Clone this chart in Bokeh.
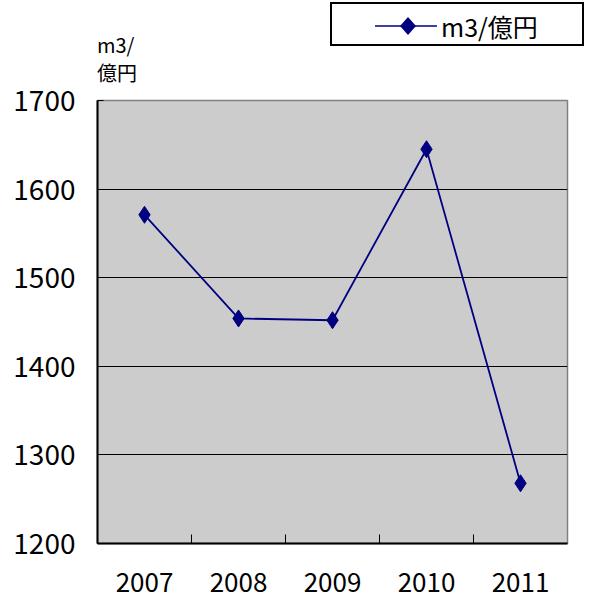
from bokeh.plotting import figure
from bokeh.layouts import column
from bokeh.models import (Range1d, LinearAxis, FixedTicker, Grid, Div)
from bokeh.embed import file_html
from bokeh.resources import INLINE

years = ["2007", "2008", "2009", "2010", "2011"]
values = [1571, 1454, 1452, 1645, 1268]
y_ticks = [1200, 1300, 1400, 1500, 1600, 1700]
series_name = "m3/億円"
y_title_lines = ["m3/", "億円"]

FONT = "Noto Sans CJK JP"
NAVY = "#000080"
xs = [i + 0.5 for i in range(len(years))]

# ---- main chart ----
p = figure(width=590, height=600, output_backend="svg", toolbar_location=None,
           x_range=Range1d(0, len(years)), y_range=Range1d(1200, 1700),
           x_axis_type=None, y_axis_type=None,
           min_border_left=97, min_border_right=23, min_border_top=100, min_border_bottom=57)
p.border_fill_color = "white"
p.background_fill_color = "#CCCCCC"
p.outline_line_color = "#808080"
p.outline_line_width = 1.5

yax = LinearAxis(ticker=FixedTicker(ticks=y_ticks))
yax.axis_line_color = "black"
yax.axis_line_width = 2
yax.major_tick_in = 6
yax.major_tick_out = 0
yax.minor_tick_line_color = None
yax.major_label_text_font = FONT
yax.major_label_text_font_size = "28px"
yax.major_label_text_color = "black"
yax.major_label_standoff = 22
p.add_layout(yax, "left")

xtick = LinearAxis(ticker=FixedTicker(ticks=list(range(1, len(years)))))
xtick.axis_line_color = "black"
xtick.axis_line_width = 2
xtick.major_tick_in = 9
xtick.major_tick_out = 0
xtick.minor_tick_line_color = None
xtick.major_label_overrides = {i: "" for i in range(1, len(years))}
xtick.major_label_standoff = 0
p.add_layout(xtick, "below")

xlab = LinearAxis(ticker=FixedTicker(ticks=xs))
xlab.major_label_overrides = {x: y for x, y in zip(xs, years)}
xlab.axis_line_color = None
xlab.major_tick_line_color = None
xlab.minor_tick_line_color = None
xlab.major_label_text_font = FONT
xlab.major_label_text_font_size = "26px"
xlab.major_label_text_color = "black"
xlab.major_label_standoff = 23
p.add_layout(xlab, "below")

grid = Grid(dimension=1, ticker=FixedTicker(ticks=y_ticks[1:-1]),
            grid_line_color="black", grid_line_width=1.2)
p.add_layout(grid)

p.line(xs, values, line_color=NAVY, line_width=1.8)
p.scatter(xs, values, marker="diamond", size=17, fill_color=NAVY, line_color=NAVY)

# ---- overlay header: unit label and legend box ----
title_divs = "".join(
    f'<div style="position:absolute;left:97px;top:{35 + 28 * i}px;height:20px;font-size:20px;'
    f'line-height:20px;white-space:nowrap;">{t}</div>'
    for i, t in enumerate(y_title_lines))

header_html = f"""
<div style="position:relative;width:590px;height:100px;font-family:'{FONT}',sans-serif;color:black;">
  {title_divs}
  <div style="position:absolute;left:330px;top:2px;width:254px;height:44px;border:2px solid black;background:white;">
    <svg style="position:absolute;left:43px;top:12px;" width="62" height="20" xmlns="http://www.w3.org/2000/svg">
      <line x1="0" y1="10" x2="62" y2="10" stroke="{NAVY}" stroke-width="1.6"/>
      <polygon points="33,1 41,10 33,19 25,10" fill="{NAVY}"/>
    </svg>
    <span style="position:absolute;left:109px;top:0px;font-size:25px;line-height:44px;white-space:nowrap;">{series_name}</span>
  </div>
</div>
"""
header = Div(text=header_html, width=590, height=100, margin=(-600, 0, 0, 0))

layout = column(p, header, spacing=0)
open("out.html", "w").write(file_html(layout, INLINE))
